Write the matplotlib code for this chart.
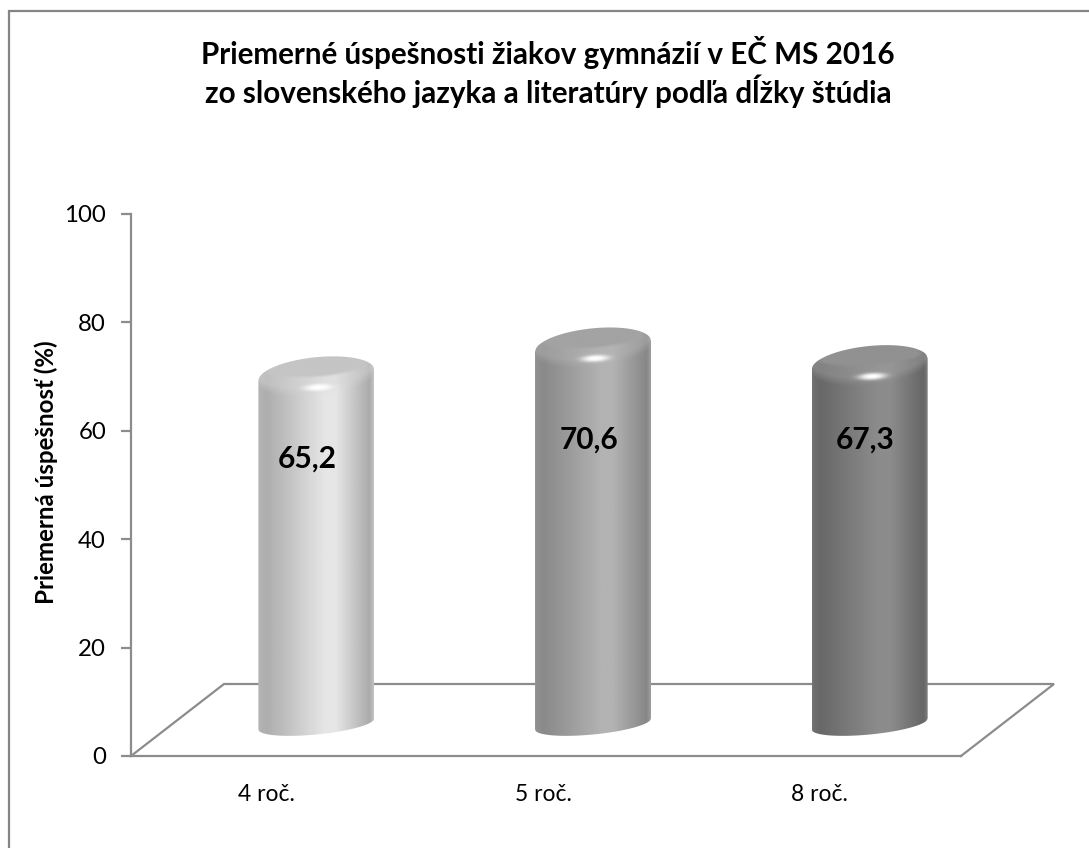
import numpy as np
import matplotlib
matplotlib.use('Agg')
import matplotlib.pyplot as plt
from matplotlib.lines import Line2D
from matplotlib.patches import PathPatch
from matplotlib.path import Path

plt.rcParams['font.family'] = ['Lato', 'DejaVu Sans']

# Data
categories = ['4 roč.', '5 roč.', '8 roč.']
values = [65.2, 70.6, 67.3]
value_labels = ['65,2', '70,6', '67,3']
y_ticks = [0, 20, 40, 60, 80, 100]
title_text = 'Priemerné úspešnosti žiakov gymnázií v EČ MS 2016\nzo slovenského jazyka a literatúry podľa dĺžky štúdia'
ylabel_text = 'Priemerná úspešnosť (%)'

# Figure layout, pixels
W, H = 1089, 848
ax_left, ax_right = 131, 961
ax_top, ax_bottom = 214, 756
line_col = '#8c8c8c'

fig = plt.figure(figsize=(W / 100, H / 100), dpi=100)
ax = fig.add_axes([ax_left / W, 1 - ax_bottom / H, (ax_right - ax_left) / W, (ax_bottom - ax_top) / H])
px_y = (ax_bottom - ax_top) / 100.0
px_x = (ax_right - ax_left) / 3.0

# Chart border, only top and left are inside the picture
fig.add_artist(Line2D([9 / W, 9 / W, 1], [0, 1 - 11 / H, 1 - 11 / H], transform=fig.transFigure,
                      color='#858585', lw=1.6, solid_joinstyle='miter'))

# Floor of the 3D chart
floor_dx = 93 / px_x
floor_dy = 72 / px_y
ax.plot([0, floor_dx, 3 + floor_dx, 3], [0, floor_dy, floor_dy, 0], color=line_col, lw=1.6,
        clip_on=False, zorder=1, solid_joinstyle='miter')

# look of each cylinder: dark edge, light centre, top face
shades = [(0.68, 0.90, 0.77), (0.54, 0.70, 0.64), (0.41, 0.55, 0.57)]
half_w = 58 / px_x
shift_x = 47 / px_x
base_y = (ax_bottom - 724) / px_y
height_scale = 5.35 / px_y
rim_b = 18 / px_y
rim_shear = 5.5 / px_y
base_b = 10.5 / px_y


def rim(u, yc, b, shear, sign):
    return yc + shear * u + sign * b * np.sqrt(np.clip(1 - u ** 2, 0, 1))


for i, val in enumerate(values):
    cx = i + 0.5 + shift_x
    yc = base_y + val * height_scale
    dark, light, face = shades[i]

    u_line = np.linspace(-1, 1, 121)
    xs = cx + half_w * u_line
    top_line = rim(u_line, yc, rim_b, rim_shear, 1)
    low_line = rim(u_line, base_y, base_b, rim_shear, -1)
    verts = list(zip(xs, low_line)) + list(zip(xs[::-1], top_line[::-1])) + [(xs[0], low_line[0])]
    codes = [Path.MOVETO] + [Path.LINETO] * (len(verts) - 2) + [Path.CLOSEPOLY]
    outline = PathPatch(Path(verts, codes), transform=ax.transData, fc='none', ec='none')
    ax.add_patch(outline)

    # shaded picture of the cylinder, clipped to its outline
    y_lo, y_hi = base_y - base_b - 2, yc + rim_b + rim_shear + 2
    nx, ny = 240, 1600
    u = np.linspace(-1, 1, nx)
    yy = np.linspace(y_hi, y_lo, ny)
    U, Y = np.meshgrid(u, yy)
    body = np.interp(U, [-1, -0.97, -0.85, 0.15, 0.35, 0.93, 1],
                     [dark + 0.05, dark + 0.02, dark, light, light, dark - 0.01, dark + 0.08])

    # soft shoulder above the rim
    low_rim = rim(U, yc, rim_b, rim_shear, -1)
    above = np.clip((Y - low_rim) * px_y / 9.0 + 0.4, 0, 1)
    shoulder = 0.55 * body + 0.45 * face + 0.03
    shade = body * (1 - above) + shoulder * above

    # flat top face
    edge = yc + (-3.5 + 3.8 * U + 8.5 * U ** 2) / px_y
    fw = np.clip((Y - edge) * px_y / 3.0, 0, 1) * np.clip((0.93 - np.abs(U)) / 0.12, 0, 1)
    shade = shade * (1 - fw) + face * fw

    # white highlight on the front of the rim
    hx = (U - 0.04) / 0.24
    hy = (Y - (yc - 13 / px_y) - 3 / px_y * U) / (3.4 / px_y)
    glow = np.exp(-(hx ** 2 + hy ** 2) ** 1.4)
    shade = shade * (1 - glow) + glow

    im = ax.imshow(np.clip(shade, 0, 1), cmap='gray', vmin=0, vmax=1, aspect='auto', zorder=3,
                   extent=[cx - half_w, cx + half_w, y_lo, y_hi], interpolation='bilinear')
    im.set_clip_path(outline)

# Value labels
label_dx = [-9, -4, -5]
label_y = [54.8, 58.4, 58.4]
for i, lab in enumerate(value_labels):
    ax.text(i + 0.5 + shift_x + label_dx[i] / px_x, label_y[i], lab, ha='center', va='center',
            fontsize=21.5, fontweight='bold', color='black', zorder=5)

# Axes
ax.set_xlim(0, 3)
ax.set_ylim(0, 100)
ax.set_xticks([i + 0.5 - 3 / px_x for i in range(3)])
ax.set_xticklabels(categories, fontsize=16.5)
ax.set_yticks(y_ticks)
ax.tick_params(axis='y', length=7, width=1.6, color=line_col, labelsize=17.3, pad=11)
ax.tick_params(axis='x', length=0, pad=20)
for side in ['top', 'right']:
    ax.spines[side].set_visible(False)
for side in ['left', 'bottom']:
    ax.spines[side].set_color(line_col)
    ax.spines[side].set_linewidth(1.6)
ax.patch.set_alpha(0)

fig.text(46 / W, 1 - 472 / H, ylabel_text, rotation=90, ha='center', va='center', fontsize=17.4, fontweight='bold')
fig.text(548 / W, 1 - 72 / H, title_text, ha='center', va='center', fontsize=21.3, fontweight='bold', linespacing=1.2)

fig.savefig('out.png', dpi=100)
